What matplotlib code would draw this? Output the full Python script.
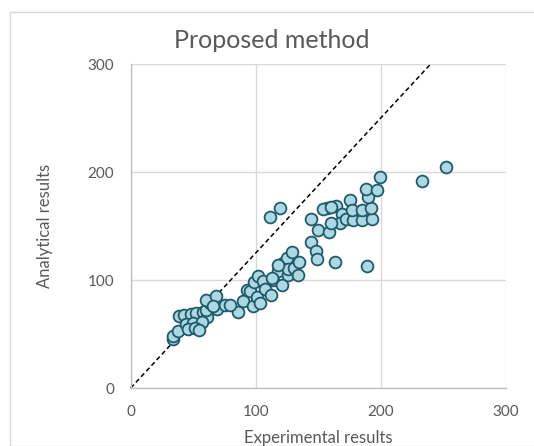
import matplotlib
matplotlib.use("Agg")
import matplotlib.pyplot as plt
from matplotlib.patches import Rectangle

# Experimental vs analytical results
experimental = [
    33.5, 34, 37.5, 39, 43, 48, 52.5, 57.5, 61, 44.5, 50, 57, 46, 51.5, 55,
    60.5, 69, 63.5, 60.5, 68, 66, 75.5, 85.5, 79.5,
    90, 92.8, 95.5, 97.5, 98.5, 100.8, 102, 103.5, 106, 107.5, 112, 113.5,
    118, 120.8, 122, 125, 125.5, 126, 128.8, 130.5, 134, 135, 113, 118,
    111.4, 119.7,
    144, 150, 159, 144.2, 148.2, 149.3, 163.4, 156.8, 154, 164.2, 160,
    168.8, 167.2, 175.2, 160, 172, 177.6, 185.3, 192.8, 177.3, 185, 192.2,
    189.6, 188, 197, 199.4, 188.8, 233.3, 252,
]
analytical = [
    45.5, 48, 52.5, 66.5, 67.5, 68.5, 69.5, 70.5, 66, 59.5, 60, 61, 54.5,
    55.5, 53.7, 72.5, 72.8, 78.5, 81.5, 85, 75.5, 77, 70.5, 76.5,
    81, 90.5, 90, 76, 98.4, 84.5, 103.7, 79, 99.4, 91.5, 86, 100,
    108.5, 95.5, 115.4, 120, 104.5, 110, 126.2, 111, 105, 117, 102, 113.5,
    158.6, 166.4,
    156.5, 146, 144.2, 134.9, 127.3, 119.3, 116.4, 167, 165.7, 168.5,
    167.9, 160.8, 153, 174.4, 153, 156.5, 155.6, 155.6, 156.5, 164.5,
    164.8, 166.7, 176.6, 184.5, 183, 195, 113.2, 192, 205,
]
# Reference line end points
ref_x = [0, 240]
ref_y = [0, 300]
ticks = [0, 100, 200, 300]

W, H = 534, 446
fig = plt.figure(figsize=(W / 100, H / 100), dpi=100)
plt.rcParams['font.family'] = ['Lato', 'DejaVu Sans']
text_color = '#595959'
grid_color = '#D9D9D9'

# Outer chart frame
fig.patches.append(Rectangle((10 / W, 0), 1, 1 - 12 / H, transform=fig.transFigure,
                             fill=False, edgecolor=grid_color, linewidth=1.0))

left, right, top, bottom = 130.7, 505.7, 64, 388
ax = fig.add_axes([left / W, 1 - bottom / H, (right - left) / W, (bottom - top) / H])
ax.set_xlim(0, 300)
ax.set_ylim(0, 300)
ax.set_xticks(ticks)
ax.set_yticks(ticks)
ax.grid(True, color=grid_color, linewidth=1.0)
ax.set_axisbelow(True)
for side in ['top', 'right']:
    ax.spines[side].set_visible(False)
for side in ['left', 'bottom']:
    ax.spines[side].set_color('#BFBFBF')
    ax.spines[side].set_linewidth(1.0)
ax.tick_params(length=0, labelsize=11, colors=text_color, pad=12)

ax.plot(ref_x, ref_y, color='black', linestyle=(0, (3, 2)), linewidth=1.1,
        zorder=2, clip_on=False)
ax.scatter(experimental, analytical, s=72, facecolor='#ADD8E3',
           edgecolor='#1F5B6B', linewidth=1.3, zorder=3, clip_on=False)

fig.text(272 / W, 1 - 41 / H, 'Proposed method', ha='center',
         va='center', fontsize=18, color=text_color)
fig.text(0.5 * (left + right) / W, 1 - 438 / H, 'Experimental results',
         ha='center', va='center', fontsize=12, color=text_color)
fig.text(45 / W, 1 - 0.5 * (top + bottom) / H, 'Analytical results',
         ha='center', va='center', rotation=90, fontsize=12, color=text_color)

fig.savefig('out.png', dpi=100)
